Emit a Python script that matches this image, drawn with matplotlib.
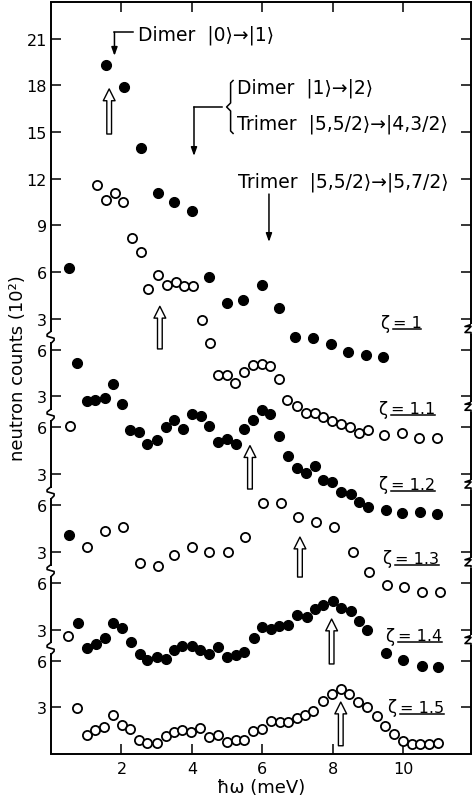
import matplotlib
matplotlib.use("Agg")
import matplotlib.pyplot as plt
from matplotlib.lines import Line2D
from matplotlib.transforms import IdentityTransform

# energy transfer (meV) and neutron counts (10^2) for each zeta
z1_x = [1.56, 2.07, 2.55, 3.03, 3.50, 3.99, 4.49, 4.99, 5.46, 5.98, 6.47, 6.93, 7.45, 7.94, 8.44, 8.94, 9.44]
z1_y = [19.33, 17.87, 13.95, 11.06, 10.48, 9.94, 5.69, 3.98, 4.22, 5.14, 3.66, 1.84, 1.73, 1.37, 0.87, 0.66, 0.51]

z11_x = [1.30, 1.55, 1.82, 2.05, 2.29, 2.55, 2.74, 3.03, 3.28, 3.54, 3.78, 4.02, 4.28, 4.51, 4.75, 5.01, 5.22, 5.48,
         5.73, 5.98, 6.22, 6.47, 6.71, 6.98, 7.24, 7.50, 7.73, 7.99, 8.24, 8.49, 8.75, 8.99, 9.47, 9.96, 10.46, 10.95]
z11_y = [16.59, 15.65, 16.06, 15.48, 13.16, 12.26, 9.90, 10.80, 10.16, 10.33, 10.08, 10.08, 7.93, 6.43, 4.37, 4.37, 3.86, 4.59,
         5.04, 5.08, 4.97, 4.12, 2.78, 2.36, 1.91, 1.91, 1.65, 1.43, 1.22, 1.01, 0.62, 0.86, 0.51, 0.62, 0.30, 0.30]

z12_x = [0.52, 0.74, 1.01, 1.25, 1.53, 1.75, 2.01, 2.24, 2.50, 2.73, 3.00, 3.26, 3.50, 3.76, 4.01, 4.25, 4.49, 4.75, 4.99, 5.24,
         5.47, 5.73, 5.98, 6.22, 6.48, 6.74, 6.99, 7.24, 7.50, 7.73, 7.99, 8.24, 8.51, 8.76, 9.01, 9.51, 9.98, 10.48, 10.95]
z12_y = [16.25, 10.14, 7.72, 7.78, 7.89, 8.79, 7.49, 5.86, 5.73, 4.94, 5.21, 6.01, 6.50, 5.90, 6.86, 6.76, 6.09, 5.05, 5.26, 4.94,
         5.92, 6.47, 7.14, 6.86, 5.43, 4.14, 3.37, 3.07, 3.54, 2.64, 2.51, 1.87, 1.72, 1.23, 0.86, 0.69, 0.50, 0.54, 0.43]

z13_x = [0.54, 1.03, 1.53, 2.03, 2.53, 3.03, 3.50, 4.01, 4.49, 5.02, 5.51, 6.03, 6.53, 7.02, 7.53, 8.04, 8.57, 9.04,
         9.53, 10.03, 10.54, 11.05]
z13_y = [11.07, 3.29, 4.32, 4.62, 2.28, 2.07, 2.82, 3.33, 2.97, 3.01, 3.94, 6.14, 6.14, 5.22, 4.92, 4.62, 2.97, 1.68,
         0.87, 0.72, 0.44, 0.45]

z14_x = [0.52, 0.76, 1.01, 1.27, 1.53, 1.77, 2.02, 2.27, 2.53, 2.72, 3.00, 3.26, 3.49, 3.73, 3.99, 4.23, 4.49, 4.75, 4.99, 5.24,
         5.49, 5.76, 5.98, 6.24, 6.48, 6.74, 6.99, 7.26, 7.50, 7.73, 8.00, 8.23, 8.51, 8.76, 8.98, 9.51, 10.01, 10.53, 11.00]
z14_y = [9.08, 3.42, 1.80, 2.07, 2.44, 3.42, 3.08, 2.22, 1.43, 1.06, 1.22, 1.11, 1.69, 1.96, 1.93, 1.71, 1.43, 1.86, 1.22, 1.37,
         1.58, 2.44, 3.17, 3.04, 3.25, 3.32, 3.94, 3.79, 4.32, 4.58, 4.86, 4.37, 4.18, 3.57, 2.99, 1.50, 1.06, 0.64, 0.58]

z15_x = [0.49, 0.73, 1.01, 1.25, 1.51, 1.77, 2.01, 2.24, 2.50, 2.73, 3.00, 3.26, 3.49, 3.73, 3.97, 4.23, 4.49, 4.75, 4.99,
         5.24, 5.49, 5.74, 6.00, 6.24, 6.50, 6.74, 6.98, 7.21, 7.45, 7.72, 7.97, 8.24, 8.47, 8.73, 8.98, 9.25, 9.49, 9.74,
         9.99, 10.24, 10.48, 10.74, 10.98]
z15_y = [7.57, 2.96, 1.24, 1.54, 1.76, 2.53, 1.88, 1.61, 0.92, 0.69, 0.69, 1.18, 1.40, 1.54, 1.40, 1.67, 1.11, 1.24, 0.79,
         0.92, 0.92, 1.48, 1.59, 2.14, 2.04, 2.08, 2.30, 2.51, 2.75, 3.43, 3.86, 4.18, 3.86, 3.32, 3.00, 2.46, 1.82, 1.29,
         0.86, 0.64, 0.64, 0.64, 0.71]

zetas = ["1", "1.1", "1.2", "1.3", "1.4", "1.5"]
xs = [z1_x, z11_x, z12_x, z13_x, z14_x, z15_x]
ys = [z1_y, z11_y, z12_y, z13_y, z14_y, z15_y]
filled = [True, False, True, False, True, False]
offsets = [25, 20, 15, 10, 5, 0]          # vertical shift of each spectrum
tick_vals = [[3, 6, 9, 12, 15, 18, 21], [3, 6], [3, 6], [3, 6], [3, 6], [3, 6]]

# marked peak positions (meV) and arrow tip / base heights relative to each spectrum
peak_x = [3.09, 5.65, 7.07, 7.97, 8.23]
peak_tip = [8.79, 4.83, 3.95, 3.68, 3.34]
peak_base = [6.05, 2.04, 1.38, 0.79, 0.53]

fig = plt.figure(figsize=(4.72, 8.03), dpi=100)
ax = fig.add_axes([51.1 / 472, 48 / 803, (471 - 51.1) / 472, 752 / 803])
ax.set_xlim(0, 11.93)
ax.set_ylim(0, 48.36)

for x, y, off, f in zip(xs, ys, offsets, filled):
    yy = [v + off for v in y]
    if f:
        ax.plot(x, yy, "o", ls="none", ms=7.2, mfc="black", mec="black", mew=0.8, zorder=3)
    else:
        ax.plot(x, yy, "o", ls="none", ms=6.6, mfc="white", mec="black", mew=1.3, zorder=3)

# ticks
yt, yl = [], []
for off, vals in zip(offsets, tick_vals):
    for v in vals:
        yt.append(off + v)
        yl.append(str(v))
ax.set_yticks(yt)
ax.set_yticklabels(yl)
ax.set_xticks([2, 4, 6, 8, 10])
ax.tick_params(axis="y", direction="in", length=7, width=1.1, right=True, labelsize=11.5, pad=3)
ax.tick_params(axis="x", direction="in", length=7, width=1.1, top=True, labelsize=11.5, pad=5)
for s in ["top", "bottom"]:
    ax.spines[s].set_linewidth(1.4)
ax.spines["left"].set_visible(False)
ax.spines["right"].set_visible(False)


def px_line(x0, y0, pts, lw=1.2):
    bx, by = ax.transData.transform((x0, y0))
    ln = Line2D([bx + p[0] for p in pts], [by + p[1] for p in pts], transform=IdentityTransform(),
                color="black", lw=lw, clip_on=False, solid_capstyle="butt")
    ax.add_line(ln)


# broken left and right axes
gap = 5 / 15.55
xr = ax.get_xlim()[1]
for xside, shift, shape in [(0, 1.8, [(0, 6), (-4, 3), (-4, 1), (3, -1), (3, -3), (0, -6)]),
                            (xr, 2.3, [(0, 5), (-6, 3), (0, 3), (-6, -3), (0, -3), (0, -5)])]:
    breaks = [off + shift for off in offsets[:-1]]
    edges = [48.36] + breaks + [0]
    for i in range(len(edges) - 1):
        top = edges[i] - (gap if i > 0 else 0)
        bot = edges[i + 1] + (gap if i < len(edges) - 2 else 0)
        ax.plot([xside, xside], [bot, top], color="black", lw=1.4, clip_on=False, solid_capstyle="butt")
    for b in breaks:
        px_line(xside, b, shape)

# hollow arrows marking the peaks
hollow = dict(arrowstyle="simple,head_length=0.85,head_width=0.85,tail_width=0.34",
              fc="white", ec="black", lw=1.0, shrinkA=0, shrinkB=0, mutation_scale=10)
ax.annotate("", xy=(1.65, 42.77), xytext=(1.65, 39.87), arrowprops=hollow)
for px_, tip, base, off in zip(peak_x, peak_tip, peak_base, offsets[1:]):
    ax.annotate("", xy=(px_, off + tip), xytext=(px_, off + base), arrowprops=hollow)

# transition labels
thin = dict(arrowstyle="-|>,head_length=0.5,head_width=0.18", color="black", lw=1.1,
            shrinkA=0, shrinkB=0, mutation_scale=10)
fs = 13.5
ax.text(2.47, 46.30, "Dimer  |0⟩→|1⟩", fontsize=fs, va="center", ha="left")
ax.plot([2.33, 1.80], [46.41, 46.41], color="black", lw=1.1, clip_on=False)
ax.annotate("", xy=(1.80, 44.90), xytext=(1.80, 46.41), arrowprops=thin)

ax.text(5.28, 42.89, "Dimer  |1⟩→|2⟩", fontsize=fs, va="center", ha="left")
ax.text(5.28, 40.58, "Trimer  |5,5/2⟩→|4,3/2⟩", fontsize=fs, va="center", ha="left")
px_line(5.10, 41.61, [(3, 27), (0, 24), (0, 4), (-4, 0), (0, -4), (0, -24), (3, -27)], lw=1.1)
ax.plot([4.85, 4.06], [41.61, 41.61], color="black", lw=1.1)
ax.annotate("", xy=(4.06, 38.46), xytext=(4.06, 41.61), arrowprops=thin)

ax.text(5.31, 36.85, "Trimer  |5,5/2⟩→|5,7/2⟩", fontsize=fs, va="center", ha="left")
ax.annotate("", xy=(6.19, 32.93), xytext=(6.19, 36.01), arrowprops=thin)

# zeta labels with underlined value
lab_x = [9.34, 9.30, 9.29, 9.40, 9.49, 9.54]
lab_y = [2.72, 2.19, 2.36, 2.60, 2.60, 3.02]
eq_texts = []
for z, off, lx, ly in zip(zetas, offsets, lab_x, lab_y):
    ax.text(lx, off + ly, "ζ", fontsize=12, va="center", ha="left")
    eq_texts.append(ax.text(lx + 0.36, off + ly, "= " + z, fontsize=11.5, va="center", ha="left"))

fig.text(18 / 472, 1 - 368 / 803, "neutron counts (10²)", rotation=90, ha="center", va="center", fontsize=13)
fig.text(261 / 472, 1 - 788 / 803, "ħω (meV)", ha="center", va="center", fontsize=13)

fig.canvas.draw()
r = fig.canvas.get_renderer()
for t in eq_texts:
    bb = t.get_window_extent(r)
    ax.add_line(Line2D([bb.x0, bb.x1], [bb.y0 + 1, bb.y0 + 1], transform=IdentityTransform(),
                       color="black", lw=1.1, clip_on=False))

fig.savefig("out.png", dpi=100)
